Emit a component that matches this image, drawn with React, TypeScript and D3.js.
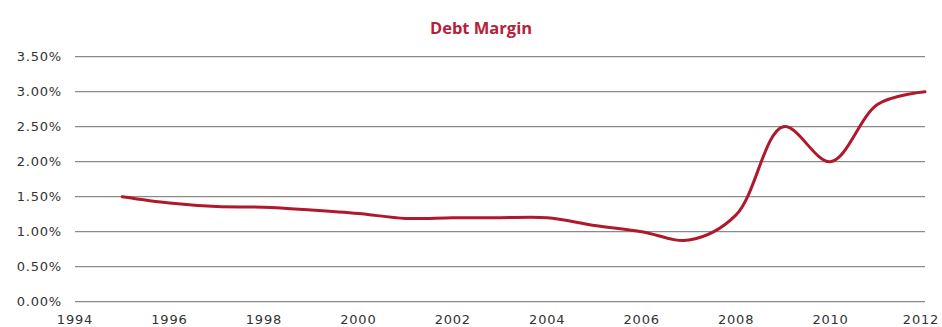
import React from "react";
import * as d3 from "d3";

const title = "Debt Margin";
const years = [1995, 1996, 1997, 1998, 1999, 2000, 2001, 2002, 2003, 2004, 2005, 2006, 2007, 2008, 2009, 2010, 2011, 2012];
const debtMargin = [1.5, 1.41, 1.36, 1.35, 1.31, 1.26, 1.19, 1.2, 1.2, 1.2, 1.09, 1.0, 0.88, 1.24, 2.5, 2.0, 2.82, 3.0];
const xTicks = [1994, 1996, 1998, 2000, 2002, 2004, 2006, 2008, 2010, 2012];
const yTicks = [0, 0.5, 1, 1.5, 2, 2.5, 3, 3.5];

const W = 942;
const H = 327;
const M = { left: 75, right: 17, top: 56.7, bottom: 25.3 };

export default function App() {
  const x = d3.scaleLinear().domain([1994, 2012]).range([M.left, W - M.right]);
  const y = d3.scaleLinear().domain([0, 3.5]).range([H - M.bottom, M.top]);
  const line = d3
    .line<number>()
    .x((_, i) => x(years[i]))
    .y((d) => y(d))
    .curve(d3.curveCatmullRom.alpha(0.5));
  const fmt = (v: number) => v.toFixed(2) + "%";
  const axisFont = { fontFamily: "'DejaVu Sans', Verdana, sans-serif", fontSize: 13, letterSpacing: 0.8, fill: "#333" };

  return (
    <div style={{ position: "fixed", left: 0, top: 0 }}>
      <svg width={W} height={H} style={{ display: "block", background: "#fff" }}>
        <text
          x={481}
          y={33.5}
          textAnchor="middle"
          style={{ fontFamily: "'Open Sans', sans-serif", fontWeight: 700, fontSize: 16.5, fill: "#b3213a" }}
        >
          {title}
        </text>
        {yTicks.map((t) => (
          <g key={t}>
            <line x1={M.left} x2={W - M.right} y1={y(t)} y2={y(t)} stroke="#8a8a8a" strokeWidth={1.3} />
            <text x={62} y={y(t)} dy="0.36em" textAnchor="end" style={axisFont}>
              {fmt(t)}
            </text>
          </g>
        ))}
        {xTicks.map((t) => (
          <text key={t} x={Math.min(x(t), W - 21)} y={324} textAnchor="middle" style={axisFont}>
            {t}
          </text>
        ))}
        <path d={line(debtMargin) || ""} fill="none" stroke="#b0182b" strokeWidth={3} strokeLinecap="round" />
      </svg>
    </div>
  );
}
